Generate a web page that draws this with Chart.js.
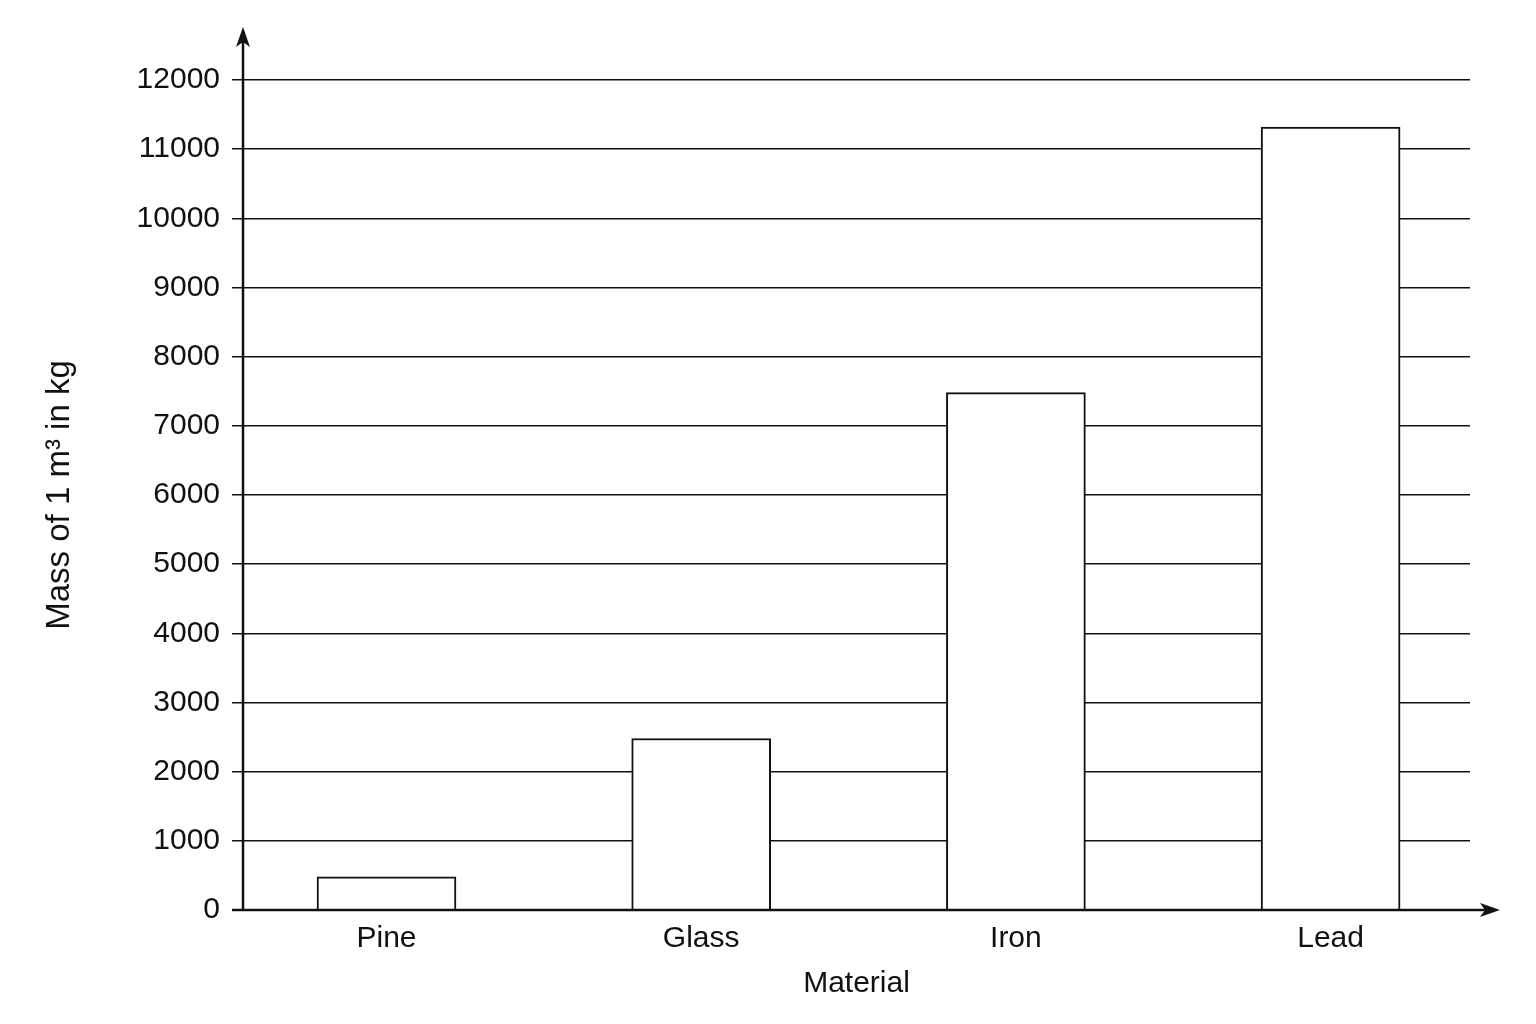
<!DOCTYPE html>
<html>
<head>
<meta charset="utf-8">
<script src="https://cdn.jsdelivr.net/npm/chart.js@4/dist/chart.umd.min.js"></script>
<style>
  body { margin: 0; background: #fff; }
  #wrap { width: 1536px; height: 1024px; }
</style>
</head>
<body>
<div id="wrap"><canvas id="chart"></canvas></div>
<script>
const materials = ["Pine", "Glass", "Iron", "Lead"];
const massKg = [480, 2480, 7480, 11320];
const yTicks = [0, 1000, 2000, 3000, 4000, 5000, 6000, 7000, 8000, 9000, 10000, 11000, 12000];

const fontFamily = "'Liberation Sans', Arial, sans-serif";
const ink = "#111";

// axis lines with arrow heads, drawn over the grid
const arrowAxes = {
  id: "arrowAxes",
  afterDatasetsDraw(chart) {
    const ctx = chart.ctx;
    const area = chart.chartArea;
    const x0 = area.left;
    const y0 = chart.scales.y.getPixelForValue(0);
    ctx.save();
    ctx.strokeStyle = ink;
    ctx.fillStyle = ink;
    ctx.lineWidth = 2.5;
    ctx.beginPath();
    ctx.moveTo(x0, y0);
    ctx.lineTo(x0, 38);
    ctx.moveTo(x0 - 11, y0);
    ctx.lineTo(1488, y0);
    ctx.stroke();
    // up arrow
    ctx.beginPath();
    ctx.moveTo(x0, 27);
    ctx.lineTo(x0 - 7, 47);
    ctx.lineTo(x0, 42);
    ctx.lineTo(x0 + 7, 47);
    ctx.closePath();
    ctx.fill();
    // right arrow
    ctx.beginPath();
    ctx.moveTo(1500, y0);
    ctx.lineTo(1480, y0 - 7);
    ctx.lineTo(1485, y0);
    ctx.lineTo(1480, y0 + 7);
    ctx.closePath();
    ctx.fill();
    ctx.restore();
  }
};

new Chart(document.getElementById("chart"), {
  type: "bar",
  data: {
    datasets: [{
      data: materials.map((m, i) => ({ x: i + 1, y: massKg[i] })),
      backgroundColor: "#fff",
      borderColor: ink,
      borderWidth: 2,
      barThickness: 139
    }]
  },
  options: {
    responsive: true,
    maintainAspectRatio: false,
    animation: false,
    layout: { padding: { top: 80, right: 66, bottom: 0, left: 0 } },
    plugins: { legend: { display: false }, tooltip: { enabled: false } },
    scales: {
      x: {
        type: "linear",
        offset: false,
        min: 0.544,
        max: 4.443,
        afterBuildTicks: s => { s.ticks = materials.map((m, i) => ({ value: i + 1 })); },
        afterFit: s => { s.height = 114; },
        grid: { display: false },
        border: { display: false },
        ticks: {
          color: ink,
          padding: 3,
          font: { family: fontFamily, size: 30 },
          callback: v => materials[v - 1]
        },
        title: {
          display: true,
          text: "Material",
          color: ink,
          padding: { top: 0, bottom: 22 },
          font: { family: fontFamily, size: 30 }
        }
      },
      y: {
        min: 0,
        max: 12000,
        afterBuildTicks: s => { s.ticks = yTicks.map(v => ({ value: v })); },
        afterFit: s => { s.width = 243; },
        grid: { color: ink, lineWidth: 1.5, tickLength: 11 },
        border: { display: false },
        ticks: {
          color: ink,
          padding: 12,
          font: { family: fontFamily, size: 30 },
          callback: v => String(v)
        },
        title: {
          display: true,
          text: "Mass of 1 m³ in kg",
          color: ink,
          padding: { top: 40, bottom: 0 },
          font: { family: fontFamily, size: 33 }
        }
      }
    }
  },
  plugins: [arrowAxes]
});
</script>
</body>
</html>
